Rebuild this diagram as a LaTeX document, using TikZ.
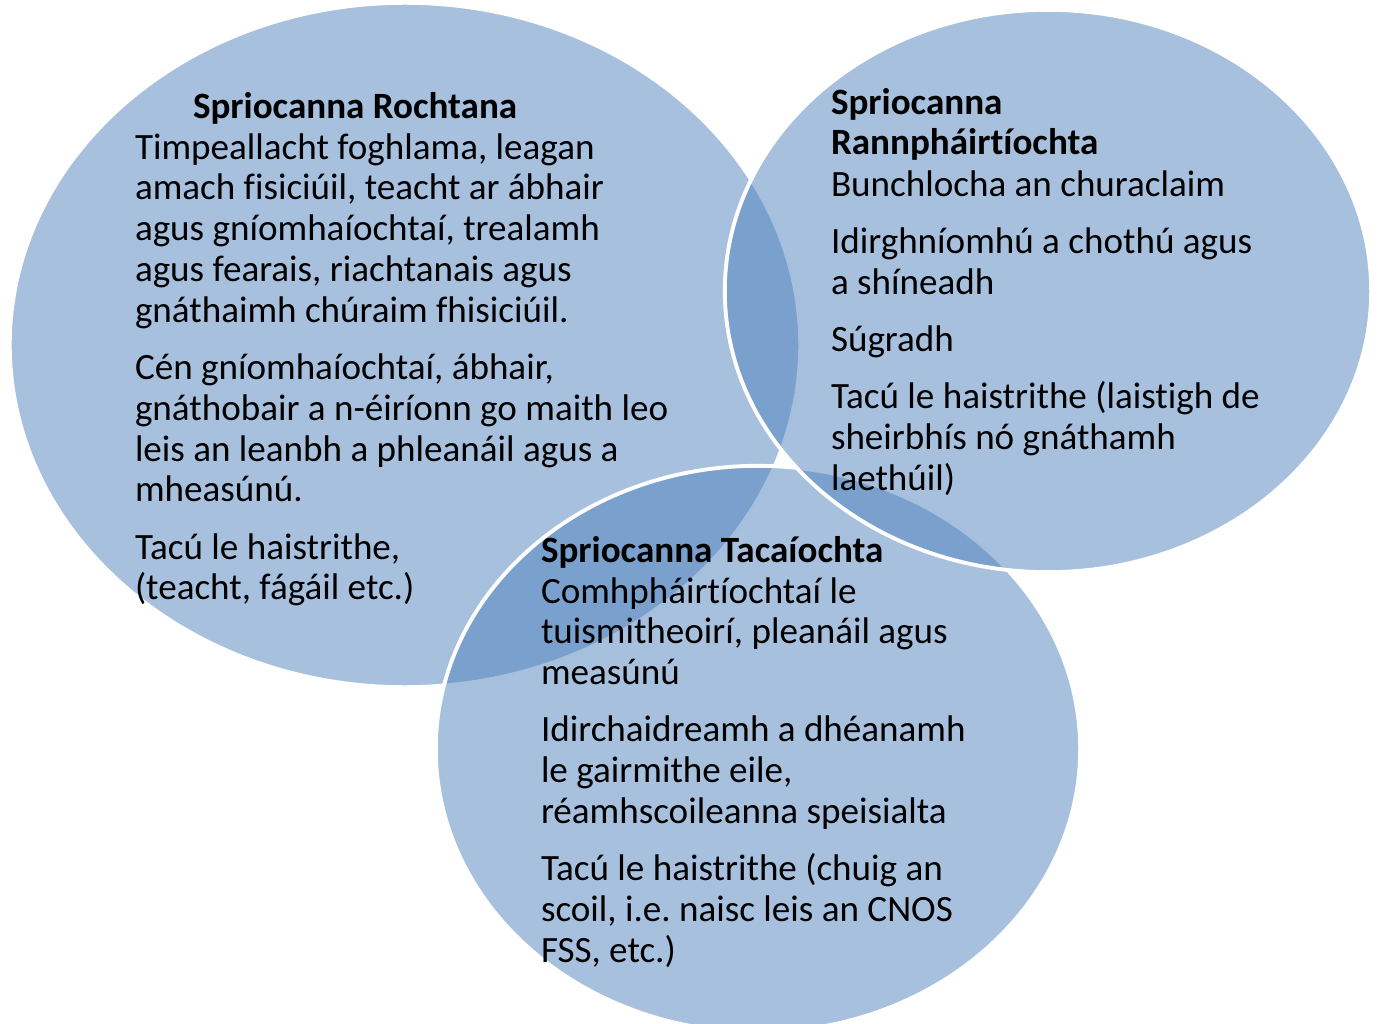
\documentclass[tikz,border=0pt]{standalone}
\usepackage{fontspec}
\setmainfont{Carlito}[Ligatures=NoCommon]
\usepackage{tikz}
\usetikzlibrary{shapes.geometric}
\definecolor{venblue}{RGB}{79, 129, 189}
\frenchspacing
\newcommand{\venfont}{\fontsize{10.55}{11.6}\selectfont}

\begin{document}
\begin{tikzpicture}[
    x=0.01cm, y=-0.01cm,
    every node/.style={inner sep=0pt, outer sep=0pt},
    setcirc/.style={ellipse, fill=venblue, fill opacity=0.5, draw=white, line width=1.1pt},
    headtxt/.style={anchor=base west, text width=6cm, align=flush left, font=\venfont\bfseries},
    bodytxt/.style={anchor=base west, text width=6cm, align=flush left, font=\venfont}
]
    \useasboundingbox (0,0) rectangle (1378,1024);
    % the three sets: left first, then bottom, then right on top
    \node[setcirc, minimum width=7.9cm, minimum height=6.84cm] (setL) at (405,345) {};
    \node[setcirc, minimum width=6.44cm, minimum height=5.66cm] (setB) at (758,749) {};
    \node[setcirc, minimum width=6.46cm, minimum height=5.62cm] (setR) at (1048,291) {};

    % texts
    \node[headtxt] (headL) at (193,118) {Spriocanna Rochtana};
    \node[bodytxt] (textL) at (135,159) {Timpeallacht foghlama, leagan\\
        amach fisiciúil, teacht ar ábhair\\
        agus gníomhaíochtaí, trealamh\\
        agus fearais, riachtanais agus\\
        gnáthaimh chúraim fhisiciúil.\\[4.7pt]
        Cén gníomhaíochtaí, ábhair,\\
        gnáthobair a n-éiríonn go maith leo\\
        leis an leanbh a phleanáil agus a\\
        mheasúnú.\\[4.7pt]
        Tacú le haistrithe,\\
        (teacht, fágáil etc.)};
    \node[headtxt] (headR) at (831,114) {Spriocanna\\Rannpháirtíochta};
    \node[bodytxt] (textR) at (831,196) {Bunchlocha an churaclaim\\[4.7pt]
        Idirghníomhú a chothú agus\\
        a shíneadh\\[4.7pt]
        Súgradh\\[4.7pt]
        Tacú le haistrithe (laistigh de\\
        sheirbhís nó gnáthamh\\
        laethúil)};
    \node[headtxt] (headB) at (541,562) {Spriocanna Tacaíochta};
    \node[bodytxt] (textB) at (541,603) {Comhpháirtíochtaí le\\
        tuismitheoirí, pleanáil agus\\
        measúnú\\[4.7pt]
        Idirchaidreamh a dhéanamh\\
        le gairmithe eile,\\
        réamhscoileanna speisialta\\[4.7pt]
        Tacú le haistrithe (chuig an\\
        scoil, i.e. naisc leis an CNOS\\
        FSS, etc.)};
\end{tikzpicture}
\end{document}
